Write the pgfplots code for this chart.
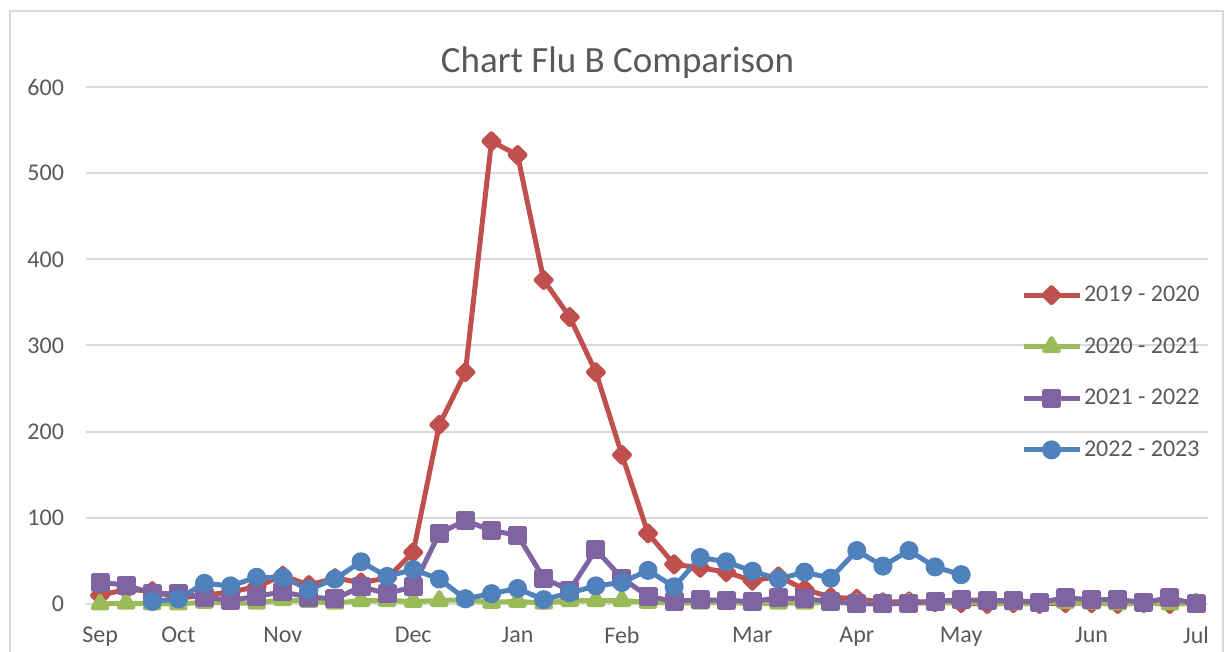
\documentclass[border=0pt]{standalone}
\usepackage{fontspec}
\setmainfont{Carlito}
\usepackage{pgfplots}
\pgfplotsset{compat=1.18}
\definecolor{cred}{HTML}{C0504D}
\definecolor{cgreen}{HTML}{9BBB59}
\definecolor{cpurple}{HTML}{8064A2}
\definecolor{cblue}{HTML}{4F81BD}
\definecolor{txt}{HTML}{595959}
\definecolor{gridc}{HTML}{D9D9D9}
\pgfplotstableread{
x y
0 10
1 17
2 15
3 7
4 10
5 14
6 20
7 33
8 22
9 30
10 25
11 30
12 60
13 208
14 269
15 537
16 521
17 376
18 333
19 269
20 173
21 82
22 46
23 42
24 37
25 27
26 32
27 17
28 8
29 6
30 2
31 3
32 2
33 1
34 0
35 1
36 0
37 1
38 1
39 0
40 1
41 0
42 1
}\tred
\pgfplotstableread{
x y
0 0
1 1
2 0
3 0
4 2
5 1
6 1
7 5
8 3
9 1
10 4
11 4
12 3
13 4
14 5
15 2
16 3
17 1
18 4
19 4
20 4
21 2
22 1
23 1
24 2
25 0
26 1
27 1
28 2
29 1
30 0
31 1
32 1
33 2
34 1
35 0
36 1
37 2
38 1
39 0
40 1
41 0
42 1
}\tgreen
\pgfplotstableread{
x y
0 25
1 22
2 12
3 12
4 8
5 4
6 9
7 14
8 8
9 6
10 20
11 12
12 20
13 82
14 97
15 85
16 80
17 30
18 16
19 63
20 30
21 9
22 3
23 5
24 4
25 3
26 7
27 6
28 3
29 0
30 0
31 1
32 3
33 5
34 4
35 4
36 2
37 7
38 5
39 5
40 2
41 7
42 0
}\tpurple
\pgfplotstableread{
x y
2 3
3 6
4 24
5 21
6 31
7 31
8 17
9 29
10 49
11 32
12 40
13 29
14 6
15 12
16 18
17 5
18 13
19 21
20 25
21 39
22 20
23 54
24 49
25 38
26 29
27 37
28 30
29 62
30 44
31 62
32 43
33 34
}\tblue
\begin{document}
\begin{tikzpicture}
\path[use as bounding box] (0,0) rectangle (612.5pt,326pt);
\draw[gridc, line width=1pt] (5pt,-5pt) -- (5pt,320.5pt) -- (611.5pt,320.5pt) -- (611.5pt,-5pt);
\begin{axis}[
  at={(43pt,24pt)}, anchor=south west,
  scale only axis, width=561pt, height=258.5pt,
  xmin=-0.54, xmax=42.46, ymin=0, ymax=600,
  ytick={0,100,...,600},
  xtick={0,3,7,12,16,20,25,29,33,38,42},
  xticklabels={Sep,Oct,Nov,Dec,Jan,Feb,Mar,Apr,May,Jun,Jul},
  axis line style={draw=none},
  major tick length=0pt,
  ymajorgrids, grid style={gridc, line width=1pt},
  tick label style={font=\fontsize{12}{14}\selectfont, text=txt},
  /pgf/number format/assume math mode=true,
  yticklabel style={xshift=-7.5pt},
  xticklabel style={yshift=-8pt},
  clip=false,
  every axis plot/.append style={line width=2.5pt, line join=round},
  legend image code/.code={\draw[#1, mark repeat=2, mark phase=2] plot coordinates {(0pt,0pt) (14pt,0pt) (28pt,0pt)};},
  legend style={at={(0.833,0.62)}, anchor=north west, draw=none, fill=none,
    font=\fontsize{12}{14}\selectfont, text=txt, inner sep=0pt,
    nodes={inner sep=1pt}, row sep=14.5pt},
  legend cell align=left,
]
\addplot[cred, mark=square*, mark size=2.65pt, mark options={rotate=45, solid}] table {\tred};
\addlegendentry{2019 - 2020}
\addplot[cgreen, mark=triangle*, mark size=4pt] table {\tgreen};
\addlegendentry{2020 - 2021}
\addplot[cpurple, mark=square*, mark size=3.5pt] table {\tpurple};
\addlegendentry{2021 - 2022}
\addplot[cblue, mark=*, mark size=3.5pt] table {\tblue};
\addlegendentry{2022 - 2023}
\end{axis}
\node[anchor=base, font=\fontsize{18.5}{22}\selectfont, text=txt] at (308.75pt,289.5pt) {Chart Flu B Comparison};
\end{tikzpicture}
\end{document}
